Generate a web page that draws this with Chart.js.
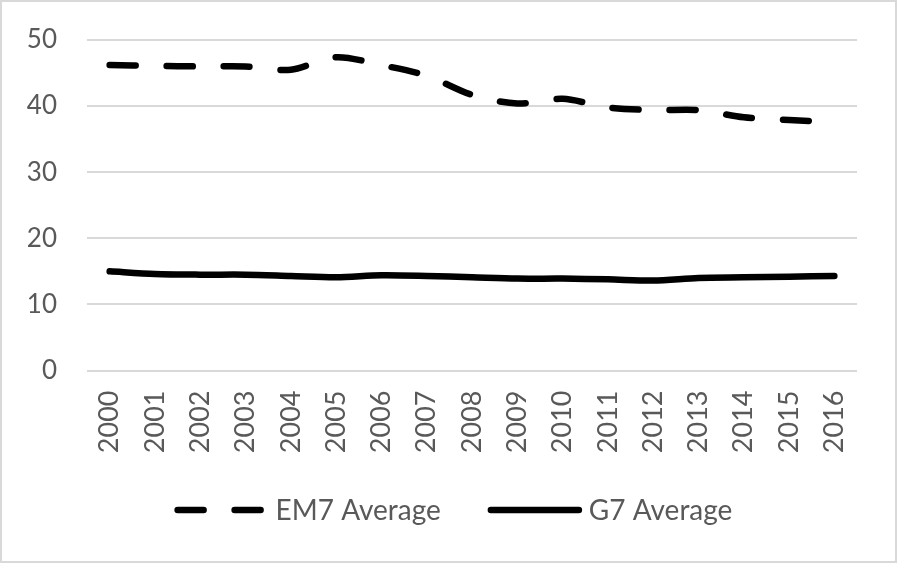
<!DOCTYPE html>
<html>
<head>
<meta charset="utf-8">
<script src="https://cdn.jsdelivr.net/npm/chart.js@4.4.1/dist/chart.umd.min.js"></script>
<style>
  html, body { margin: 0; padding: 0; background: #fff; }
  #wrap { position: relative; width: 897px; height: 563px; }
</style>
</head>
<body>
<div id="wrap"><canvas id="c" width="897" height="563"></canvas></div>
<script>
const years = ['2000','2001','2002','2003','2004','2005','2006','2007','2008','2009','2010','2011','2012','2013','2014','2015','2016'];
const em7Average = [46.2, 46.1, 46.0, 46.0, 45.5, 47.4, 46.2, 44.6, 41.7, 40.4, 41.1, 39.8, 39.4, 39.4, 38.3, 37.9, 37.6];
const g7Average = [15.0, 14.6, 14.5, 14.5, 14.3, 14.1, 14.4, 14.3, 14.1, 13.9, 13.9, 13.8, 13.6, 14.0, 14.1, 14.2, 14.3];
const yTicks = [0, 10, 20, 30, 40, 50];

const textColor = '#595959';
const gridColor = '#d9d9d9';
const fontFamily = 'Lato, Carlito, "Liberation Sans", sans-serif';
const lineW = 6.5;
const emDash = [26, 31];

const frame = {
  id: 'frame',
  beforeDraw(chart) {
    const ctx = chart.ctx;
    ctx.save();
    ctx.fillStyle = '#ffffff';
    ctx.fillRect(0, 0, chart.width, chart.height);
    ctx.strokeStyle = gridColor;
    ctx.lineWidth = 2;
    ctx.strokeRect(1, 1, chart.width - 2, chart.height - 2);
    ctx.restore();
  }
};

// Legend drawn below the axis labels (line samples with dash pattern)
const lineLegend = {
  id: 'lineLegend',
  afterDraw(chart) {
    const ctx = chart.ctx;
    const sampleLen = 88;
    const textGap = 10;
    const itemGap = 50;
    const cy = 510;
    ctx.save();
    ctx.font = '28px ' + fontFamily;
    const items = chart.data.datasets.map(ds => ({
      ds, w: sampleLen + textGap + ctx.measureText(ds.label).width
    }));
    const total = items.reduce((s, it) => s + it.w, 0) + itemGap * (items.length - 1);
    let x = 455 - total / 2;
    items.forEach(it => {
      ctx.beginPath();
      ctx.setLineDash(it.ds.borderDash || []);
      ctx.lineCap = 'round';
      ctx.lineWidth = lineW;
      ctx.strokeStyle = it.ds.borderColor;
      ctx.moveTo(x, cy);
      ctx.lineTo(x + sampleLen, cy);
      ctx.stroke();
      ctx.setLineDash([]);
      ctx.fillStyle = textColor;
      ctx.textBaseline = 'middle';
      ctx.textAlign = 'left';
      ctx.fillText(it.ds.label, x + sampleLen + textGap, cy + 1);
      x += it.w + itemGap;
    });
    ctx.restore();
  }
};

const chart = new Chart(document.getElementById('c'), {
  type: 'line',
  data: {
    labels: years,
    datasets: [
      {
        label: 'EM7 Average',
        data: em7Average,
        borderColor: '#000000',
        backgroundColor: '#000000',
        borderWidth: lineW,
        borderDash: emDash,
        borderCapStyle: 'round',
        borderJoinStyle: 'round',
        pointRadius: 0,
        tension: 0.3,
        fill: false
      },
      {
        label: 'G7 Average',
        data: g7Average,
        borderColor: '#000000',
        backgroundColor: '#000000',
        borderWidth: lineW,
        borderCapStyle: 'round',
        borderJoinStyle: 'round',
        pointRadius: 0,
        tension: 0.3,
        fill: false
      }
    ]
  },
  options: {
    responsive: false,
    animation: false,
    devicePixelRatio: 1,
    layout: { padding: { top: 40, left: 0, right: 40, bottom: 0 } },
    plugins: {
      tooltip: { enabled: false },
      legend: { display: false }
    },
    scales: {
      x: {
        offset: true,
        afterFit(axis) { axis.height = 192.5; },
        grid: { display: false, drawTicks: false },
        border: { display: false },
        ticks: {
          color: textColor,
          font: { family: fontFamily, size: 27 },
          minRotation: 90,
          maxRotation: 90,
          padding: 20,
          autoSkip: false
        }
      },
      y: {
        min: 0,
        max: 50,
        afterFit(axis) {
          axis.width = 87;
          axis.paddingTop = 0;
          axis.paddingBottom = 0;
        },
        afterBuildTicks(axis) { axis.ticks = yTicks.map(v => ({ value: v })); },
        grid: { color: gridColor, lineWidth: 2, drawTicks: false },
        border: { display: false },
        ticks: {
          color: textColor,
          font: { family: fontFamily, size: 26 },
          padding: 30
        }
      }
    }
  },
  plugins: [frame, lineLegend]
});

// Nudge the layout padding so the plot area lands where the reference has it
const targetTop = 40;
const pad = chart.options.layout.padding;
const diff = targetTop - chart.chartArea.top;
if (Math.abs(diff) > 0.5) {
  pad.top = Math.max(0, pad.top + diff);
  chart.update();
}
</script>
</body>
</html>
